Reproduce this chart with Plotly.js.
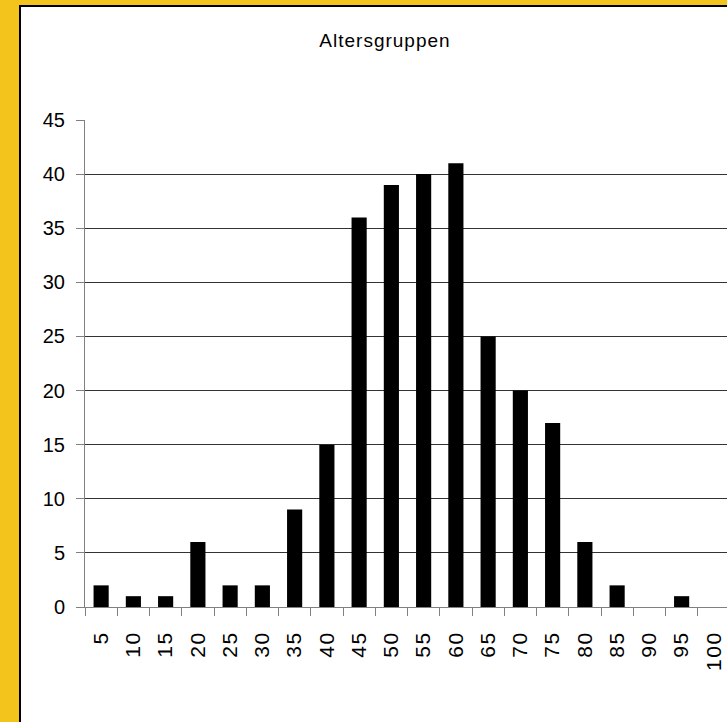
<!DOCTYPE html>
<html>
<head>
<meta charset="utf-8">
<script src="https://cdn.plot.ly/plotly-3.0.1.min.js"></script>
<style>
  html, body { margin: 0; padding: 0; width: 727px; height: 722px; overflow: hidden; background: #F2C41C; }
  #wrap { position: absolute; left: 19px; top: 5px; border-left: 2px solid #000; border-top: 2px solid #000; background: #fff; width: 720px; height: 730px; }
  #chart { position: absolute; left: 0; top: 0; }
  .xtick text { letter-spacing: 1.5px; }
  .gtitle { letter-spacing: 1px; }
</style>
</head>
<body>
<div id="wrap"><div id="chart"></div></div>
<script>
const categories = ['5','10','15','20','25','30','35','40','45','50','55','60','65','70','75','80','85','90','95','100'];
const counts = [2,1,1,6,2,2,9,15,36,39,40,41,25,20,17,6,2,0,1,0];
const yTicks = [0,5,10,15,20,25,30,35,40,45];
const chartTitle = 'Altersgruppen';

const sans = '"Liberation Sans", Arial, sans-serif';

const trace = {
  type: 'bar',
  x: categories,
  y: counts,
  marker: { color: '#000000', line: { width: 0 } },
  hoverinfo: 'x+y'
};

const W = 709, H = 715;
const layout = {
  width: W,
  height: H,
  paper_bgcolor: 'rgba(0,0,0,0)',
  plot_bgcolor: '#ffffff',
  margin: { l: 64, r: 0, t: 113, b: 115, pad: 0 },
  showlegend: false,
  bargap: 0.53,
  title: {
    text: chartTitle,
    font: { family: sans, size: 19, color: '#000' },
    xref: 'container', x: 364 / W, xanchor: 'center',
    yref: 'container', y: 1 - 33 / H, yanchor: 'middle'
  },
  xaxis: {
    type: 'category',
    categoryorder: 'array',
    categoryarray: categories,
    tickson: 'boundaries',
    ticks: 'outside',
    ticklen: 8,
    tickwidth: 1,
    tickcolor: '#808080',
    tickangle: -90,
    ticklabelstandoff: 15,
    showline: true,
    linecolor: '#808080',
    linewidth: 1,
    showgrid: false,
    zeroline: false,
    tickfont: { family: sans, size: 21, color: '#000' }
  },
  yaxis: {
    range: [0, 45],
    tickmode: 'array',
    tickvals: yTicks,
    ticktext: yTicks.map(String),
    ticks: 'outside',
    ticklen: 8,
    tickwidth: 1,
    tickcolor: '#808080',
    ticklabelstandoff: 7,
    showline: true,
    linecolor: '#808080',
    linewidth: 1,
    showgrid: true,
    gridcolor: '#333333',
    gridwidth: 1,
    zeroline: false,
    tickfont: { family: sans, size: 20, color: '#000' }
  }
};

Plotly.newPlot('chart', [trace], layout, { displayModeBar: false, staticPlot: true });
</script>
</body>
</html>
